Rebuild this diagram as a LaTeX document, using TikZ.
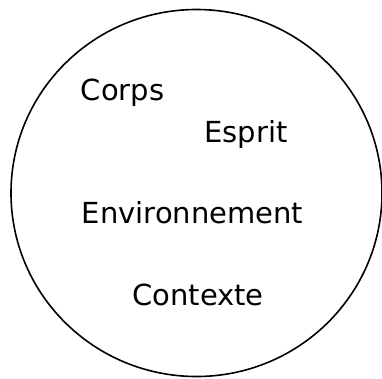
\documentclass[tikz,border=0pt]{standalone}
\usepackage{fontspec}
\setmainfont{DejaVu Sans}
\usepackage{tikz}

\begin{document}
\begin{tikzpicture}[x=1pt,y=-1pt]
        \useasboundingbox (0,0) rectangle (382,378);
        \draw[line width=1.6pt] (196.5,193) ellipse (185.5 and 183.5);

        \node[anchor=base,inner sep=0pt,font=\fontsize{29}{35}\selectfont] (Corps) at (122.5,100) {Corps};
        \node[anchor=base,inner sep=0pt,font=\fontsize{29}{35}\selectfont] (Esprit) at (246,142) {Esprit};
        \node[anchor=base,inner sep=0pt,font=\fontsize{29}{35}\selectfont] (Env) at (192.5,223) {Environnement};
        \node[anchor=base,inner sep=0pt,font=\fontsize{29}{35}\selectfont] (Ctx) at (198,305) {Contexte};
    \end{tikzpicture}
\end{document}
